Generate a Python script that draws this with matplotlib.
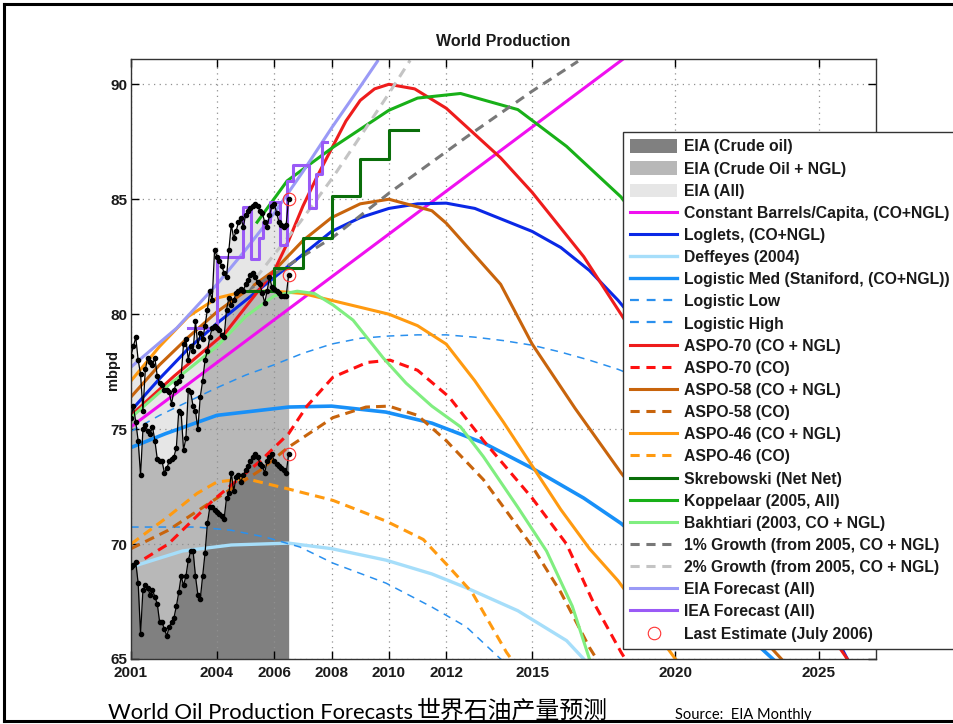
import matplotlib
matplotlib.use('Agg')
import matplotlib.pyplot as plt
import numpy as np
from matplotlib.lines import Line2D
from matplotlib.patches import Patch

plt.rcParams['font.family'] = ['Liberation Sans', 'DejaVu Sans']

# ---------------- data ----------------
months = 2001 + np.arange(67) / 12.0   # Jan 2001 .. Jul 2006

eia_crude = [69.0, 69.1, 69.2, 68.3, 66.1, 68.0, 68.2, 68.1, 67.8, 68.0, 67.7, 67.4,
             66.6, 66.6, 66.3, 66.0, 66.4, 66.6, 66.8, 67.3, 67.9, 68.6, 68.2, 68.6,
             69.3, 69.7, 69.7, 68.6, 67.8, 67.6, 68.6, 69.6, 70.9, 71.6, 71.6, 71.5,
             71.4, 71.3, 71.2, 71.1, 72.0, 72.2, 73.1, 72.3, 72.9, 73.0, 72.7, 73.0,
             73.2, 73.4, 73.6, 73.8, 73.9, 73.8, 73.5, 73.4, 73.1, 73.6, 73.8, 73.9,
             73.6, 73.5, 73.4, 73.3, 73.2, 73.1, 73.9]
eia_cong = [75.5, 76.0, 75.3, 74.5, 73.0, 75.0, 75.2, 74.9, 74.8, 75.1, 74.5, 73.7,
            73.6, 73.6, 73.1, 73.3, 73.6, 73.7, 73.8, 74.2, 75.8, 75.7, 74.1, 74.6,
            76.7, 76.6, 76.0, 75.8, 75.0, 76.4, 77.1, 78.0, 78.4, 79.0, 79.4, 79.5,
            79.4, 79.3, 79.1, 79.0, 80.2, 80.7, 80.4, 80.6, 80.9, 81.0, 81.1, 81.0,
            81.3, 81.5, 81.7, 81.8, 81.6, 81.4, 81.3, 80.9, 80.5, 81.0, 81.6, 81.2,
            81.1, 81.0, 80.9, 80.8, 80.8, 80.8, 81.7]
eia_all = [78.2, 78.6, 79.0, 78.0, 77.4, 75.8, 77.6, 78.1, 77.9, 77.8, 78.1, 77.3,
           77.0, 76.9, 76.7, 76.7, 76.6, 76.1, 76.7, 77.0, 77.1, 77.3, 78.7, 78.9,
           78.0, 78.6, 78.4, 79.7, 78.6, 79.2, 78.9, 79.5, 80.2, 81.0, 80.6, 82.8,
           82.5, 82.3, 82.1, 81.8, 81.6, 82.8, 83.9, 83.3, 83.6, 84.0, 84.2, 83.8,
           84.3, 84.5, 84.6, 84.7, 84.8, 84.7, 84.5, 84.4, 84.0, 83.8, 84.3, 84.7,
           84.8, 84.4, 84.0, 83.9, 83.8, 83.9, 85.0]

cbc_x = [2001, 2020]
cbc_y = [75.1, 92.8]

loglets_x = [2001, 2002, 2003, 2004, 2005, 2006, 2007, 2008, 2009, 2010, 2011, 2012,
             2013, 2014, 2015, 2016, 2017, 2018, 2020, 2022, 2024, 2026, 2027]
loglets_y = [75.8, 77.2, 78.5, 79.6, 80.6, 81.6, 82.6, 83.6, 84.2, 84.6, 84.8, 84.83,
             84.6, 84.1, 83.6, 82.9, 81.9, 80.6, 77.6, 74.0, 69.8, 65.0, 62.5]

deff_x = [2001, 2002.8, 2004.5, 2006.5, 2008, 2009.9, 2011.5, 2012.7, 2014.5, 2016.2, 2016.8, 2017.5]
deff_y = [69.0, 69.7, 69.96, 70.04, 69.8, 69.3, 68.7, 68.1, 67.1, 65.8, 65.0, 64.0]

lmed_x = [2001, 2002.2, 2004, 2006.5, 2008, 2009.9, 2011.5, 2013.3, 2015, 2016.8, 2018.1,
          2020, 2022, 2023.4, 2024]
lmed_y = [74.2, 74.8, 75.6, 75.96, 76.0, 75.74, 75.26, 74.4, 73.3, 72.0, 70.9,
          68.9, 66.6, 65.0, 64.3]

llow_x = [2001, 2003.3, 2004.5, 2005.7, 2006.9, 2008.05, 2009.9, 2011.5, 2012.7, 2013.9, 2014.5]
llow_y = [70.74, 70.74, 70.6, 70.3, 69.87, 69.17, 68.3, 67.26, 66.4, 65.0, 64.5]

lhigh_x = [2001, 2002, 2003, 2004, 2005, 2006, 2007, 2008, 2009, 2010, 2011, 2012, 2013,
           2014, 2015, 2016, 2017, 2018, 2020, 2022, 2024, 2027]
lhigh_y = [74.9, 75.6, 76.2, 76.8, 77.35, 77.8, 78.3, 78.7, 78.95, 79.05, 79.1, 79.1, 79.0,
           78.85, 78.65, 78.35, 78.0, 77.6, 76.6, 75.3, 73.8, 71.0]

a70_x = [2001, 2002.5, 2004.3, 2006, 2006.5, 2007, 2007.5, 2008, 2008.5, 2009, 2009.5, 2010,
         2010.9, 2012, 2013.9, 2015, 2016.8, 2018.1, 2020, 2022, 2024, 2026, 2027]
a70_y = [75.6, 77.3, 79.2, 81.9, 83.2, 84.7, 86.0, 87.2, 88.4, 89.3, 89.8, 90.0,
         89.8, 88.96, 86.8, 85.3, 82.5, 80.0, 76.3, 72.3, 68.6, 65.0, 63.2]

a70co_x = [2001, 2002.3, 2003.86, 2005.5, 2006.5, 2007.14, 2008.05, 2009.24, 2010.04, 2011,
           2012.1, 2013.3, 2015, 2016.2, 2017.1, 2018.1, 2018.5]
a70co_y = [69.0, 70.0, 71.9, 73.6, 74.8, 76.0, 77.26, 77.9, 78.0, 77.56,
           76.4, 74.5, 72.0, 70.0, 67.56, 65.3, 64.5]

a58_x = [2001, 2002, 2003, 2004, 2005, 2006, 2007, 2008, 2009, 2010, 2011.5, 2012, 2013.9,
         2015, 2016.5, 2018.1, 2020, 2022, 2023.7, 2024.5]
a58_y = [76.4, 77.8, 79.0, 80.1, 81.0, 81.9, 83.2, 84.2, 84.8, 85.0, 84.5, 83.96, 81.3,
         78.7, 75.9, 73.1, 70.1, 67.3, 65.0, 64.0]

a58co_x = [2001, 2002.3, 2004, 2005.5, 2006.48, 2008.05, 2009.2, 2010, 2011, 2012, 2013.3,
           2015, 2016, 2017, 2017.5]
a58co_y = [69.8, 70.6, 72.0, 73.2, 74.2, 75.5, 75.96, 76.0, 75.6, 74.5, 72.8,
           69.9, 67.9, 65.5, 64.5]

a46_x = [2001, 2002, 2003, 2004, 2005, 2006, 2007, 2008, 2009, 2010, 2011, 2012, 2013,
         2014, 2015, 2016, 2017, 2018, 2019, 2020, 2020.5]
a46_y = [77.1, 78.6, 79.9, 80.7, 81.0, 81.0, 80.9, 80.6, 80.3, 80.0, 79.5, 78.7, 77.1,
         75.3, 73.4, 71.5, 69.8, 68.4, 66.7, 65.0, 64.2]

a46co_x = [2001, 2002.3, 2003.3, 2004, 2005, 2006.48, 2008.05, 2009.9, 2011.2, 2012.1,
           2012.9, 2014.1, 2014.5]
a46co_y = [70.0, 71.2, 72.2, 72.7, 72.85, 72.4, 71.9, 71.0, 70.2, 69.0,
           67.9, 65.3, 64.6]

skreb_x = [2005.05, 2006, 2007, 2008, 2009, 2010, 2011]
skreb_y = [81.0, 82.0, 83.3, 85.15, 86.75, 88.0, 88.0]

kop_x = [2005.4, 2006.45, 2008.05, 2010, 2011, 2012.5, 2014.5, 2016.2, 2018.1, 2020, 2022,
         2024, 2027]
kop_y = [84.0, 85.8, 87.26, 88.87, 89.4, 89.6, 88.9, 87.3, 85.1, 82.0, 78.5,
         74.5, 68.0]

bak_x = [2001, 2002, 2003, 2004, 2005, 2006, 2006.8, 2007.4, 2008.05, 2008.75, 2009.8,
         2010.6, 2011.5, 2012.5, 2013.3, 2014.5, 2015.5, 2016.4, 2017.0, 2017.3]
bak_y = [75.5, 76.6, 77.6, 78.6, 79.9, 80.8, 81.0, 80.9, 80.4, 79.74, 78.1,
         77.0, 76.0, 75.1, 73.8, 71.6, 69.7, 67.3, 65.0, 64.0]

g1_x = [2005.0, 2005.5, 2008.05, 2010, 2012.7, 2015, 2016.6]
g1_y = [81.0, 81.35, 83.35, 85.26, 87.7, 89.7, 91.0]

g2_x = [2005.0, 2006.0, 2006.9, 2008.05, 2009.2, 2010, 2010.74]
g2_y = [81.0, 82.6, 84.0, 85.96, 88.1, 89.6, 91.04]

eiaf_x = [2001, 2002.6, 2004, 2005, 2006, 2007, 2008, 2009, 2009.6]
eiaf_y = [77.7, 79.4, 81.3, 82.8, 84.4, 86.2, 88.1, 89.9, 91.0]

iea_x = [2003.0, 2004.0, 2004.9, 2005.2, 2005.45, 2005.6, 2005.85, 2006.2, 2006.45,
         2006.65, 2007.2, 2007.45, 2007.65, 2007.85]
iea_y = [79.4, 82.5, 84.65, 82.4, 83.3, 84.0, 84.9, 83.0, 85.8,
         86.5, 84.6, 86.1, 87.5, 87.5]

last_x = [2006.5, 2006.5, 2006.5]
last_y = [85.0, 81.7, 73.9]

xticks = [2001, 2004, 2006, 2008, 2010, 2012, 2015, 2020, 2025]
yticks = [65, 70, 75, 80, 85, 90]

# ---------------- styles ----------------
C_DARK, C_MID, C_LIGHT = '#808080', '#b8b8b8', '#e6e6e6'
C = dict(cbc='#f010f0', loglets='#0a28e6', deff='#a6defa', lmed='#1890f8',
         llow='#2a90ee', a70='#ee1c1c', a70co='#ff1010', a58='#c8640c',
         a46='#ff9a10', skreb='#0a6e0a', kop='#18b018', bak='#80ee80',
         g1='#787878', g2='#c4c4c4', eiaf='#9a9af6', iea='#9a5af6')

fig = plt.figure(figsize=(9.54, 7.24), dpi=100)
ax = fig.add_axes([131/954, 1-659/724, 745/954, 600/724])

# fills
ax.fill_between(months, 65, eia_all, color=C_LIGHT, lw=0, zorder=1)
ax.fill_between(months, 65, eia_cong, color=C_MID, lw=0, zorder=1)
ax.fill_between(months, 65, eia_crude, color=C_DARK, lw=0, zorder=1)

lw_main = 2.2
ASPO_D = (3.2, 2.0)
LOG_D = (5, 4)
GR_D = (3.2, 2.2)

ax.plot(cbc_x, cbc_y, color=C['cbc'], lw=lw_main, zorder=2)
ax.plot(deff_x, deff_y, color=C['deff'], lw=2.4, zorder=2)
ax.plot(lmed_x, lmed_y, color=C['lmed'], lw=2.6, zorder=2)
ax.plot(llow_x, llow_y, color=C['llow'], lw=1.1, dashes=LOG_D, zorder=2)
ax.plot(lhigh_x, lhigh_y, color=C['llow'], lw=1.1, dashes=LOG_D, zorder=2)
ax.plot(loglets_x, loglets_y, color=C['loglets'], lw=lw_main, zorder=2)
ax.plot(a46_x, a46_y, color=C['a46'], lw=lw_main, zorder=2)
ax.plot(a46co_x, a46co_y, color=C['a46'], lw=lw_main, dashes=ASPO_D, zorder=2)
ax.plot(a58_x, a58_y, color=C['a58'], lw=lw_main, zorder=2)
ax.plot(a58co_x, a58co_y, color=C['a58'], lw=lw_main, dashes=ASPO_D, zorder=2)
ax.plot(a70_x, a70_y, color=C['a70'], lw=lw_main, zorder=2)
ax.plot(a70co_x, a70co_y, color=C['a70co'], lw=lw_main, dashes=ASPO_D, zorder=2)
ax.plot(bak_x, bak_y, color=C['bak'], lw=lw_main, zorder=2)
ax.plot(kop_x, kop_y, color=C['kop'], lw=lw_main, zorder=2)
ax.plot(g1_x, g1_y, color=C['g1'], lw=lw_main, dashes=GR_D, zorder=2)
ax.plot(g2_x, g2_y, color=C['g2'], lw=lw_main, dashes=GR_D, zorder=2)
ax.plot(skreb_x, skreb_y, color=C['skreb'], lw=lw_main, drawstyle='steps-post', zorder=2)
ax.plot(eiaf_x, eiaf_y, color=C['eiaf'], lw=lw_main, zorder=2)
ax.plot(iea_x, iea_y, color=C['iea'], lw=lw_main, drawstyle='steps-post', zorder=2)

for s in (eia_all, eia_cong, eia_crude):
    ax.plot(months, s, color='black', lw=0.9, marker='o', ms=3.0, zorder=3)
ax.plot(last_x, last_y, ls='none', marker='o', ms=9, mfc='none', mec='#ff3030',
        mew=0.8, zorder=4)

ax.set_xlim(2001, 2027)
ax.set_ylim(65, 91.1)
ax.set_xticks(xticks)
ax.set_yticks(yticks)
ax.grid(True, color='#909090', lw=0.9, dashes=(1, 3.5))
ax.tick_params(direction='in', length=6, width=1, top=True, right=True, labelsize=11)
ax.tick_params(axis='x', pad=5)
ax.tick_params(axis='y', pad=2.5)
for lab in ax.get_xticklabels() + ax.get_yticklabels():
    lab.set_fontweight('bold')
    lab.set_color('#1a1a1a')
for sp in ax.spines.values():
    sp.set_linewidth(1.0)
    sp.set_color('#333333')

# legend
LD = (3, 2.2)
handles = [
    Patch(facecolor=C_DARK, edgecolor='none'),
    Patch(facecolor=C_MID, edgecolor='none'),
    Patch(facecolor=C_LIGHT, edgecolor='none'),
    Line2D([], [], color=C['cbc'], lw=lw_main),
    Line2D([], [], color=C['loglets'], lw=lw_main),
    Line2D([], [], color=C['deff'], lw=2.4),
    Line2D([], [], color=C['lmed'], lw=2.4),
    Line2D([], [], color=C['llow'], lw=1.6, dashes=(4, 3.5)),
    Line2D([], [], color=C['llow'], lw=1.6, dashes=(4, 3.5)),
    Line2D([], [], color=C['a70'], lw=lw_main),
    Line2D([], [], color=C['a70co'], lw=lw_main, dashes=LD),
    Line2D([], [], color=C['a58'], lw=lw_main),
    Line2D([], [], color=C['a58'], lw=lw_main, dashes=LD),
    Line2D([], [], color=C['a46'], lw=lw_main),
    Line2D([], [], color=C['a46'], lw=lw_main, dashes=LD),
    Line2D([], [], color=C['skreb'], lw=lw_main),
    Line2D([], [], color=C['kop'], lw=lw_main),
    Line2D([], [], color=C['bak'], lw=lw_main),
    Line2D([], [], color=C['g1'], lw=lw_main, dashes=LD),
    Line2D([], [], color=C['g2'], lw=lw_main, dashes=LD),
    Line2D([], [], color=C['eiaf'], lw=lw_main),
    Line2D([], [], color=C['iea'], lw=lw_main),
    Line2D([], [], ls='none', marker='o', ms=9, mfc='none', mec='#ff3030', mew=0.8),
]
labels = ['EIA (Crude oil)', 'EIA (Crude Oil + NGL)', 'EIA (All)',
          'Constant Barrels/Capita, (CO+NGL)', 'Loglets, (CO+NGL)', 'Deffeyes (2004)',
          'Logistic Med (Staniford, (CO+NGL))', 'Logistic Low', 'Logistic High',
          'ASPO-70 (CO + NGL)', 'ASPO-70 (CO)', 'ASPO-58 (CO + NGL)', 'ASPO-58 (CO)',
          'ASPO-46 (CO + NGL)', 'ASPO-46 (CO)', 'Skrebowski (Net Net)',
          'Koppelaar (2005, All)', 'Bakhtiari (2003, CO + NGL)',
          '1% Growth (from 2005, CO + NGL)', '2% Growth (from 2005, CO + NGL)',
          'EIA Forecast (All)', 'IEA Forecast (All)', 'Last Estimate (July 2006)']
leg = ax.legend(handles, labels, loc='upper left',
                bbox_to_anchor=(623/954, 1-132/724), bbox_transform=fig.transFigure,
                borderaxespad=0, frameon=True, fancybox=False, framealpha=1,
                edgecolor='#333333', handlelength=3.0, handleheight=0.95,
                handletextpad=0.45, labelspacing=0.445, borderpad=0.46,
                prop={'weight': 'bold', 'size': 11.3})
leg.get_frame().set_linewidth(1.0)
leg.set_zorder(10)
for t in leg.get_texts():
    t.set_color('#1a1a1a')

# texts
fig.text(503.5/954, 1-42/724, 'World Production', ha='center', va='center',
         fontsize=11.5, fontweight='bold', color='#1a1a1a')
fig.text(113/954, 1-370/724, 'mbpd', rotation=90, ha='center', va='center',
         fontsize=10.5, fontweight='bold', color='#1a1a1a')
fig.text(108/954, 1-719/724, 'World Oil Production Forecasts', ha='left', va='baseline',
         fontsize=15.8, family=['Lato', 'DejaVu Sans'], color='black')
fig.text(417/954, 1-718/724, '世界石油产量预测', ha='left', va='baseline',
         fontsize=17.2, family=['Noto Sans CJK SC', 'DejaVu Sans'], color='black')
fig.text(675/954, 1-719/724, 'Source:  EIA Monthly', ha='left', va='baseline',
         fontsize=10.5, family=['Lato', 'DejaVu Sans'], color='black')

# slide frame
for (x0, y0, x1, y1) in [(4/954, 3.5/724, 4/954, 1-3.5/724),
                         (4/954, 1-3.5/724, 1.0, 1-3.5/724),
                         (4/954, 3/724, 1.0, 3/724)]:
    fig.add_artist(Line2D([x0, x1], [y0, y1], transform=fig.transFigure,
                          color='black', lw=2.2))

fig.savefig('out.png', dpi=100)
